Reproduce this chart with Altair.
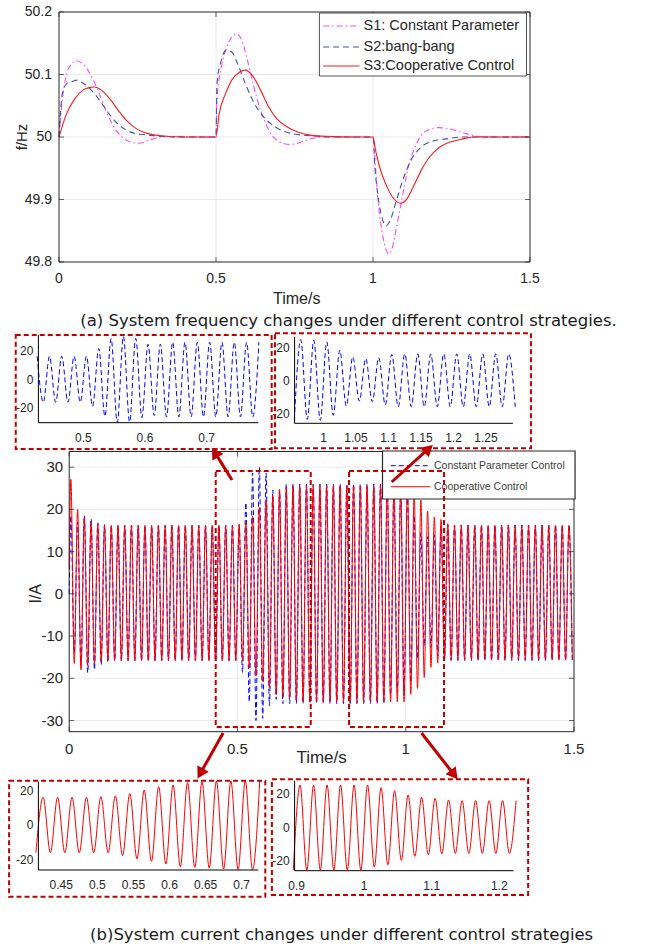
import altair as alt
import pandas as pd

W, H = 648, 949
FONT = "Liberation Sans"
CAP_FONT = "DejaVu Sans"
DARK_RED = "#c00000"
TXT = "#262626"
GRID = "#e4e4e4"

# ---------------- (a) frequency data ----------------
s1_t = [0, 0.0105, 0.024, 0.037, 0.055, 0.076, 0.096, 0.122, 0.149, 0.175,
        0.201, 0.227, 0.254, 0.287, 0.326, 0.365, 0.45, 0.5, 0.503, 0.517,
        0.534, 0.55, 0.565, 0.582, 0.6, 0.618, 0.642, 0.668, 0.694, 0.734,
        0.76, 0.8, 0.839, 0.9, 1.0, 1.008, 1.018, 1.028, 1.042, 1.051,
        1.062, 1.075, 1.095, 1.115, 1.134, 1.154, 1.18, 1.207, 1.233, 1.259,
        1.299, 1.338, 1.4, 1.5]
s1_f = [50.0, 50.059, 50.101, 50.115, 50.122, 50.117, 50.104, 50.077, 50.043, 50.016,
        50.0, 49.992, 49.990, 49.995, 50.0, 50.001, 50.0, 50.0, 50.059, 50.112,
        50.144, 50.16, 50.165, 50.155, 50.123, 50.085, 50.043, 50.011, 49.995, 49.988,
        49.990, 49.997, 50.0, 50.0, 50.0, 49.952, 49.888, 49.851, 49.819, 49.813,
        49.824, 49.856, 49.909, 49.957, 49.984, 50.003, 50.012, 50.015, 50.014, 50.011,
        50.005, 50.001, 50.0, 50.0]
s2_t = [0, 0.0105, 0.024, 0.043, 0.057, 0.076, 0.103, 0.129, 0.155, 0.181,
        0.208, 0.247, 0.287, 0.326, 0.4, 0.5, 0.503, 0.517, 0.533, 0.55,
        0.569, 0.589, 0.609, 0.635, 0.668, 0.707, 0.747, 0.8, 0.9, 1.0,
        1.006, 1.015, 1.028, 1.042, 1.055, 1.075, 1.095, 1.121, 1.154, 1.194,
        1.233, 1.286, 1.4, 1.5]
s2_f = [50.0, 50.069, 50.085, 50.089, 50.091, 50.086, 50.075, 50.059, 50.04, 50.024,
        50.013, 50.005, 50.003, 50.001, 50.0, 50.0, 50.085, 50.123, 50.139, 50.136,
        50.117, 50.091, 50.067, 50.043, 50.024, 50.011, 50.005, 50.002, 50.0, 50.0,
        49.952, 49.909, 49.872, 49.858, 49.867, 49.899, 49.931, 49.963, 49.984, 49.994,
        49.997, 50.0, 50.0, 50.0]
s3_t = [0, 0.024, 0.05, 0.076, 0.096, 0.113, 0.135, 0.162, 0.188, 0.214,
        0.247, 0.287, 0.326, 0.4, 0.5, 0.51, 0.53, 0.55, 0.576, 0.593,
        0.615, 0.642, 0.668, 0.694, 0.727, 0.76, 0.8, 0.852, 0.95, 1.0,
        1.008, 1.021, 1.042, 1.062, 1.088, 1.108, 1.128, 1.154, 1.18, 1.213,
        1.246, 1.286, 1.325, 1.4, 1.5]
s3_f = [50.0, 50.037, 50.061, 50.075, 50.079, 50.08, 50.075, 50.061, 50.043, 50.027,
        50.013, 50.005, 50.002, 50.0, 50.0, 50.037, 50.069, 50.091, 50.104, 50.107,
        50.099, 50.075, 50.048, 50.029, 50.016, 50.008, 50.003, 50.001, 50.0, 50.0,
        49.979, 49.952, 49.923, 49.904, 49.894, 49.901, 49.92, 49.947, 49.968, 49.984,
        49.992, 49.997, 50.0, 50.0, 50.0]
freq_names = ["S1: Constant Parameter", "S2:bang-bang", "S3:Cooperative Control"]
freq_xticks = [0, 0.5, 1, 1.5]
freq_yticks = [49.8, 49.9, 50, 50.1, 50.2]

# ---------------- (b) current data: peak values of every cycle ----------------
red_start = 6.0
blue_start = 0.0
red_pos = [27.1, 20.0, 18.0, 17.0, 16.5, 16.2, 16.2, 16.2, 16.2, 16.2,
           16.2, 16.2, 16.2, 16.2, 16.2, 16.2, 16.2, 16.2, 16.2, 16.2,
           16.2, 16.2, 16.2, 16.2, 16.2, 16.5, 17.0, 18.4, 20.4, 22.3,
           23.3, 24.7, 25.2, 25.6, 25.6, 25.6, 25.6, 25.6, 25.6, 25.6,
           25.6, 25.6, 25.6, 25.6, 25.6, 25.6, 25.6, 25.6, 25.6, 25.6,
           25.6, 24.0, 22.2, 19.6, 18.2, 17.6, 16.6, 16.2, 16.2, 16.2,
           16.2, 16.2, 16.2, 16.2, 16.2, 16.2, 16.2, 16.2, 16.2, 16.2,
           16.2, 16.2, 16.2, 16.2, 16.2]
red_neg = [-16.5, -18.0, -17.0, -16.5, -15.8, -15.8, -15.8, -15.8, -15.8, -15.8,
           -15.8, -15.8, -15.8, -15.8, -15.8, -15.8, -15.8, -15.8, -15.8, -15.8,
           -15.8, -15.8, -15.8, -15.8, -15.8, -15.8, -17.5, -19.4, -20.8, -22.3,
           -23.9, -24.3, -24.7, -25.2, -25.6, -25.6, -25.6, -25.6, -25.6, -25.6,
           -25.6, -25.6, -25.6, -25.6, -25.6, -25.6, -25.6, -25.6, -25.6, -25.6,
           -23.8, -22.4, -19.8, -17.4, -16.4, -15.8, -15.6, -15.6, -15.6, -15.6,
           -15.6, -15.6, -15.6, -15.6, -15.6, -15.6, -15.6, -15.6, -15.6, -15.6,
           -15.6, -15.6, -15.6, -15.6, -15.6]
blue_pos = [18.5, 17.0, 18.5, 17.8, 16.8, 16.4, 16.2, 16.2, 16.2, 16.2,
            16.2, 16.2, 16.2, 16.2, 16.2, 16.2, 16.2, 16.2, 16.2, 16.2,
            16.2, 16.2, 16.2, 16.2, 16.2, 16.3, 21.6, 28.6, 30.0, 28.6,
            24.6, 24.6, 26.0, 26.0, 26.0, 26.0, 26.0, 26.0, 26.0, 26.0,
            26.0, 26.0, 26.0, 26.0, 26.0, 26.0, 26.0, 26.0, 25.0, 24.6,
            23.6, 18.6, 14.5, 13.5, 14.0, 16.0, 16.3, 16.3, 16.3, 16.3,
            16.3, 16.3, 16.3, 16.3, 16.3, 16.3, 16.3, 16.3, 16.3, 16.3,
            16.3, 16.3, 16.3, 16.3, 16.3]
blue_neg = [-14.0, -17.0, -18.7, -18.0, -16.8, -16.2, -15.8, -15.8, -15.8, -15.8,
            -15.8, -15.8, -15.8, -15.8, -15.8, -15.8, -15.8, -15.8, -15.8, -15.8,
            -15.8, -15.8, -15.8, -15.8, -15.8, -18.6, -25.6, -30.0, -29.5, -26.5,
            -25.0, -26.0, -26.0, -26.0, -26.0, -26.0, -26.0, -26.0, -26.0, -26.0,
            -26.0, -26.0, -26.0, -26.0, -26.0, -26.0, -26.0, -24.0, -23.4, -24.0,
            -21.0, -15.4, -12.3, -12.7, -14.7, -15.8, -15.8, -15.8, -15.8, -15.8,
            -15.8, -15.8, -15.8, -15.8, -15.8, -15.8, -15.8, -15.8, -15.8, -15.8,
            -15.8, -15.8, -15.8, -15.8, -15.8]
cur_names = ["Constant Parameter Control", "Cooperative Control"]
cur_xticks = [0, 0.5, 1, 1.5]
cur_yticks = [-30, -20, -10, 0, 10, 20, 30]
inset_yticks = [-20, 0, 20]

# peaks of a 50 Hz wave: a half period apart
peak_times = [0.0] + [round(0.005 + 0.01 * i, 3) for i in range(150)]


def wave(start, pos, neg):
    vals = [start]
    for p, n in zip(pos, neg):
        vals += [p, n]
    return pd.DataFrame({"x": peak_times, "y": vals})


red_df = wave(red_start, red_pos, red_neg)
blue_df = wave(blue_start, blue_pos, blue_neg)


# ---------------- helpers ----------------
def lin(domain, rng):
    return alt.Scale(domain=domain, range=rng, nice=False, zero=False)


def plot(data, mark, xs, ys, x2=None, y2=None, enc=None, **props):
    base = getattr(alt.Chart(pd.DataFrame(data)), "mark_" + mark)(**props)
    e = {"x": alt.X("x:Q", scale=xs, axis=None), "y": alt.Y("y:Q", scale=ys, axis=None)}
    if x2:
        e["x2"] = alt.X2(x2)
    if y2:
        e["y2"] = alt.Y2(y2)
    if enc:
        e.update(enc)
    return base.encode(**e)


def text(xs, ys, x, y, label, **props):
    return plot({"x": [x], "y": [y], "label": [label]}, "text", xs, ys,
                enc={"text": alt.Text("label:N")}, **props)


def tick_labels(xs, ys, xvals, ybase, yvals, xbase, size, xpad, ypad):
    bottom = plot({"x": xvals, "y": [ybase] * len(xvals), "label": [str(v) for v in xvals]},
                  "text", xs, ys, enc={"text": alt.Text("label:N")}, align="center",
                  baseline="top", dy=xpad, font=FONT, fontSize=size, color=TXT)
    left = plot({"x": [xbase] * len(yvals), "y": yvals, "label": [str(v) for v in yvals]},
                "text", xs, ys, enc={"text": alt.Text("label:N")}, align="right",
                baseline="middle", dx=-ypad, font=FONT, fontSize=size, color=TXT)
    return [bottom, left]


def inward_ticks(xs, ys, xvals, yvals, xdom, ydom):
    n, m = len(xvals), len(yvals)
    k = dict(size=5, thickness=1, color="#262626")
    return [
        plot({"x": xvals, "y": [ydom[0]] * n}, "tick", xs, ys, orient="vertical", yOffset=-2.5, **k),
        plot({"x": xvals, "y": [ydom[1]] * n}, "tick", xs, ys, orient="vertical", yOffset=2.5, **k),
        plot({"x": [xdom[0]] * m, "y": yvals}, "tick", xs, ys, orient="horizontal", xOffset=2.5, **k),
        plot({"x": [xdom[1]] * m, "y": yvals}, "tick", xs, ys, orient="horizontal", xOffset=-2.5, **k),
    ]


# ---------------- (a) frequency panel ----------------
FXD, FYD = [0, 1.5], [49.8, 50.2]
fx = lin(FXD, [59, 530])
fy = lin(FYD, [262, 12])

f_layers = [
    plot({"x": freq_xticks[1:-1], "y": [FYD[0]] * 2, "y2": [FYD[1]] * 2}, "rule", fx, fy,
         y2="y2", color=GRID, strokeWidth=0.8),
    plot({"x": [FXD[0]] * 3, "x2": [FXD[1]] * 3, "y": freq_yticks[1:-1]}, "rule", fx, fy,
         x2="x2", color=GRID, strokeWidth=0.8),
    plot({"x": s1_t, "y": s1_f}, "line", fx, fy, interpolate="monotone",
         color="#ff45ff", strokeDash=[6, 3, 1.5, 3], strokeWidth=1.1),
    plot({"x": s2_t, "y": s2_f}, "line", fx, fy, interpolate="monotone",
         color="#3f56a6", strokeDash=[6, 4], strokeWidth=1.1),
    plot({"x": s3_t, "y": s3_f}, "line", fx, fy, interpolate="monotone",
         color="#ff1a1a", strokeWidth=1.1),
    plot({"x": [FXD[0]], "x2": [FXD[1]], "y": [FYD[0]], "y2": [FYD[1]]}, "rect", fx, fy,
         x2="x2", y2="y2", fillOpacity=0, stroke="#262626", strokeWidth=1),
    *inward_ticks(fx, fy, freq_xticks, freq_yticks, FXD, FYD),
    *tick_labels(fx, fy, freq_xticks, FYD[0], freq_yticks, FXD[0], 14, 10, 7),
    # legend
    plot({"x": [0.8293], "x2": [1.4889], "y": [50.0976], "y2": [50.1984]}, "rect", fx, fy,
         x2="x2", y2="y2", fill="white", stroke="#262626", strokeWidth=0.8),
    plot({"x": [0.8411], "x2": [0.957], "y": [50.1776]}, "rule", fx, fy, x2="x2",
         color="#ff45ff", strokeDash=[6, 3, 1.5, 3], strokeWidth=1.1),
    plot({"x": [0.8411], "x2": [0.957], "y": [50.144]}, "rule", fx, fy, x2="x2",
         color="#3f56a6", strokeDash=[6, 4], strokeWidth=1.1),
    plot({"x": [0.8411], "x2": [0.957], "y": [50.1136]}, "rule", fx, fy, x2="x2",
         color="#ff1a1a", strokeWidth=1.1),
    plot({"x": [0.970] * 3, "y": [50.1776, 50.144, 50.1136], "label": freq_names}, "text",
         fx, fy, enc={"text": alt.Text("label:N")}, align="left", baseline="middle",
         font=FONT, fontSize=14.5, color=TXT),
    text(fx, fy, 0.757, 49.741, "Time/s", font=FONT, fontSize=16, color=TXT,
         align="center", baseline="middle"),
    text(fx, fy, -0.119, 50.0, "f/Hz", font=FONT, fontSize=15, color=TXT,
         align="center", baseline="middle", angle=270),
    text(fx, fy, 0.922, 49.706, "(a) System frequency changes under different control strategies.",
         font=CAP_FONT, fontSize=16.5, color="#1a1a1a", align="center", baseline="middle"),
]
freq_panel = alt.layer(*f_layers)

# ---------------- (b) main current panel ----------------
MXD, MYD = [0, 1.5], [-32.65, 33.7]
mx = lin(MXD, [69.2, 574])
my = lin(MYD, [731.7, 451.5])

m_layers = [
    plot({"x": cur_xticks[1:-1], "y": [MYD[0]] * 2, "y2": [MYD[1]] * 2}, "rule", mx, my,
         y2="y2", color=GRID, strokeWidth=0.8),
    plot({"x": [MXD[0]] * 7, "x2": [MXD[1]] * 7, "y": cur_yticks}, "rule", mx, my,
         x2="x2", color=GRID, strokeWidth=0.8),
    plot(blue_df, "line", mx, my, interpolate="monotone", color="#0000ff",
         strokeDash=[5, 3], strokeWidth=1),
    plot(red_df, "line", mx, my, interpolate="monotone", color="#ff0000", strokeWidth=1),
    plot({"x": [MXD[0]], "x2": [MXD[1]], "y": [MYD[0]], "y2": [MYD[1]]}, "rect", mx, my,
         x2="x2", y2="y2", fillOpacity=0, stroke="#262626", strokeWidth=1),
    *inward_ticks(mx, my, cur_xticks, cur_yticks, MXD, MYD),
    *tick_labels(mx, my, cur_xticks, MYD[0], cur_yticks, MXD[0], 15, 10, 6),
    # legend
    plot({"x": [0.931], "x2": [1.5031], "y": [22.45], "y2": [33.82]}, "rect", mx, my,
         x2="x2", y2="y2", fill="white", stroke="#262626", strokeWidth=1.2),
    plot({"x": [0.9554], "x2": [1.0722], "y": [30.34]}, "rule", mx, my, x2="x2",
         color="#0000ff", strokeDash=[5, 3], strokeWidth=1),
    plot({"x": [0.9554], "x2": [1.0722], "y": [25.36]}, "rule", mx, my, x2="x2",
         color="#ff0000", strokeWidth=1),
    plot({"x": [1.0841] * 2, "y": [30.34, 25.36], "label": cur_names}, "text", mx, my,
         enc={"text": alt.Text("label:N")}, align="left", baseline="middle",
         font=FONT, fontSize=10.5, color="#404040"),
    # zoom frames
    plot({"x": [0.4354, 0.8315], "x2": [0.7177, 1.1138], "y": [-31.54] * 2, "y2": [29.08] * 2},
         "rect", mx, my, x2="x2", y2="y2", fillOpacity=0, stroke=DARK_RED,
         strokeWidth=2, strokeDash=[5, 3]),
    # arrows
    plot({"x": [0.4838, 0.9584, 0.4574, 1.0469], "y": [26.95, 26.48, -32.96, -32.96],
          "x2": [0.436, 1.0639, 0.3923, 1.1403], "y2": [33.08, 34.06, -42.15, -42.5]},
         "rule", mx, my, x2="x2", y2="y2", color=DARK_RED, strokeWidth=3),
    plot({"x": [0.436, 1.0639, 0.3923, 1.1403], "y": [33.08, 34.06, -42.15, -42.5],
          "a": [328, 48, 209.4, 142]}, "point", mx, my,
         enc={"angle": alt.Angle("a:Q", scale=None)}, shape="triangle", filled=True,
         color=DARK_RED, size=170, opacity=1),
    text(mx, my, -0.0996, 0, "I/A", font=FONT, fontSize=16, color=TXT,
         align="center", baseline="middle", angle=270),
    text(mx, my, 0.75, -38.88, "Time/s", font=FONT, fontSize=17, color=TXT,
         align="center", baseline="middle"),
    text(mx, my, 0.8095, -80.79, "(b)System current changes under different control strategies",
         font=CAP_FONT, fontSize=16.5, color="#1a1a1a", align="center", baseline="middle"),
]
main_panel = alt.layer(*m_layers)


# ---------------- insets ----------------
def inset(df, xdom, xrng, ydom, yrng, color, dash, xticks, frame):
    xs = lin(xdom, xrng)
    ys = lin(ydom, yrng)
    sub = df[(df.x >= xdom[0] - 0.004) & (df.x <= xdom[1] + 0.004)]
    props = dict(interpolate="monotone", color=color, strokeWidth=1)
    if dash:
        props["strokeDash"] = dash
    line = plot(sub, "line", xs, ys, **props)
    spines = plot({"x": [xdom[0], xdom[0]], "x2": [xdom[1], xdom[0]],
                   "y": [ydom[0], ydom[0]], "y2": [ydom[0], ydom[1]]},
                  "rule", xs, ys, x2="x2", y2="y2", color="black", strokeWidth=1)
    labels = tick_labels(xs, ys, xticks, ydom[0], inset_yticks, xdom[0], 12, 10, 5)
    fr = plot({"x": [frame[0]], "x2": [frame[1]], "y": [frame[2]], "y2": [frame[3]]},
              "rect", xs, ys, x2="x2", y2="y2", fillOpacity=0, stroke=DARK_RED,
              strokeWidth=2, strokeDash=[5, 3])
    return alt.layer(line, spines, *labels, fr)


inset1 = inset(blue_df, [0.427, 0.784], [38.4, 258.3], [-30, 31], [422.7, 335],
               "#0000ff", [5, 3], [0.5, 0.6, 0.7], [0.3902, 0.8057, -48.29, 31])
inset2 = inset(blue_df, [0.9555, 1.2914], [294.6, 512.9], [-25.8, 26.7], [423.3, 336.7],
               "#0000ff", [5, 3], [1, 1.05, 1.1, 1.15, 1.2, 1.25], [0.9253, 1.3192, -40.96, 28.76])
inset3 = inset(red_df, [0.4184, 0.723], [38.4, 258.3], [-25.8, 25.2], [870, 781.7],
               "#ff0000", None, [0.45, 0.5, 0.55, 0.6, 0.65, 0.7], [0.3778, 0.7327, -41.22, 25.78])
inset4 = inset(red_df, [0.8969, 1.2213], [294.6, 513.6], [-26, 28.2], [870.7, 780.7],
               "#ff0000", None, [0.9, 1, 1.1, 1.2], [0.8633, 1.2428, -40.64, 29.04])

chart = alt.layer(freq_panel, inset1, inset2, main_panel, inset3, inset4).resolve_scale(
    x="independent", y="independent"
).properties(
    width=W, height=H, padding=0, background="white",
    autosize=alt.AutoSizeParams(type="none"),
).configure_view(stroke=None)

chart.save("out.html", embed_options={"renderer": "svg", "actions": False})
